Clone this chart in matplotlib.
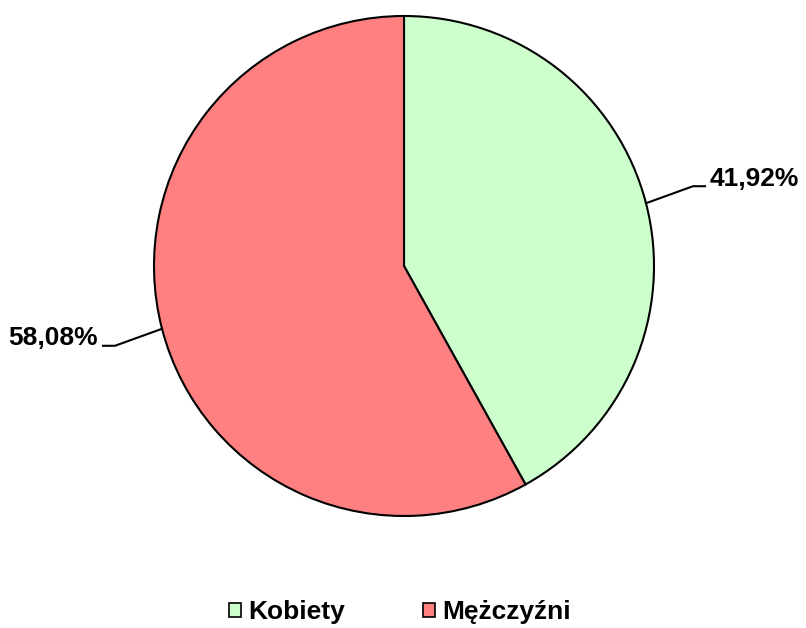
import numpy as np
import matplotlib
matplotlib.use('Agg')
import matplotlib.pyplot as plt
from matplotlib.patches import Patch

labels = ['Kobiety', 'Mężczyźni']
values = [41.92, 58.08]
value_labels = ['41,92%', '58,08%']
colors = ['#CCFFCC', '#FF8080']

plt.rcParams['font.family'] = ['Liberation Sans', 'DejaVu Sans']

fig = plt.figure(figsize=(8.06, 6.28), dpi=100)
ax = fig.add_axes([154 / 806, 112 / 628, 500 / 806, 500 / 628])

wedges, _ = ax.pie(values, colors=colors, startangle=90, counterclock=False,
                   radius=1, wedgeprops=dict(edgecolor='black', linewidth=1.5))
ax.set_xlim(-1, 1)
ax.set_ylim(-1, 1)
ax.set_aspect('equal')
ax.axis('off')

### leader lines and percentage labels
for w, txt in zip(wedges, value_labels):
    mid = np.deg2rad((w.theta1 + w.theta2) / 2)
    x0, y0 = np.cos(mid), np.sin(mid)
    side = np.sign(x0)
    x1, y1 = 1.156 * side, y0 + 0.068 * side
    x2 = x1 + 0.048 * side
    ax.plot([x0, x1, x2], [y0, y1, y1], color='black', lw=1.5, clip_on=False)
    ax.text(x2 + 0.02 * side, y1 + 0.03, txt, ha='left' if side > 0 else 'right',
            va='center', fontsize=19, fontweight='bold', clip_on=False)

handles = [Patch(facecolor=c, edgecolor='black', linewidth=1.2) for c in colors]
fig.legend(handles, labels, loc='center', bbox_to_anchor=(400 / 806, 1 - 612 / 628),
           ncol=2, frameon=False, prop=dict(size=19, weight='bold'),
           handlelength=0.45, handleheight=0.45, handletextpad=0.27, columnspacing=2.95)

plt.savefig('out.png', dpi=100)
